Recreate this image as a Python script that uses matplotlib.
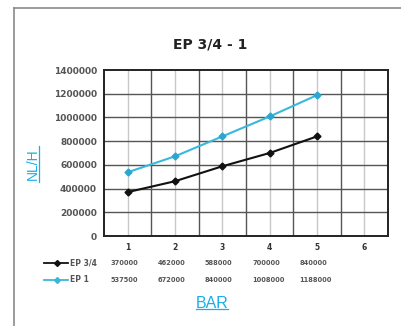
import matplotlib
matplotlib.use("Agg")
import matplotlib.pyplot as plt
from matplotlib.lines import Line2D

categories = [1, 2, 3, 4, 5, 6]
bar_values = [1, 2, 3, 4, 5]
ep34 = [370000, 462000, 588000, 700000, 840000]
ep1 = [537500, 672000, 840000, 1008000, 1188000]
series_names = ["EP 3/4", "EP 1"]
yticks = [0, 200000, 400000, 600000, 800000, 1000000, 1200000, 1400000]
title = "EP 3/4 - 1"

W, H = 401, 326
fig = plt.figure(figsize=(W / 100, H / 100), dpi=100)
fig.patch.set_facecolor("white")

# outer frame (left and top lines)
fig.add_artist(Line2D([14 / W, 14 / W], [0, 1 - 8 / H], color="#8a8a8a", lw=1.2))
fig.add_artist(Line2D([14 / W, 1], [1 - 8 / H, 1 - 8 / H], color="#8a8a8a", lw=1.2))

ax = fig.add_axes([104 / W, 1 - 236 / H, (388 - 104) / W, (236 - 70) / H])
ax.set_xlim(0.5, 6.5)
ax.set_ylim(0, 1400000)

# grid
for c in categories:
    ax.axvline(c, color="#c8c8c8", lw=1.0, zorder=0)
for c in categories[:-1]:
    ax.axvline(c + 0.5, color="#555555", lw=1.0, zorder=1)
for y in yticks[1:-1]:
    ax.axhline(y, color="#555555", lw=1.0, zorder=1)

black = "#111111"
cyan = "#3ab8dc"
ax.plot(bar_values, ep34, color=black, lw=1.5, marker="D", ms=3.5, zorder=3)
ax.plot(bar_values, ep1, color=cyan, lw=1.5, marker="D", ms=3.5,
        markerfacecolor="#2aa6d0", markeredgecolor="#2aa6d0", zorder=3)

for s in ax.spines.values():
    s.set_color("#222222")
    s.set_linewidth(1.4)

ax.set_yticks(yticks)
ax.set_yticklabels([str(v) for v in yticks], fontsize=6.5, fontweight="bold", color="#555555")
ax.set_xticks(categories)
ax.set_xticklabels([str(c) for c in categories], fontsize=5.5, fontweight="bold", color="#333333")
ax.tick_params(axis="both", length=0, pad=5)

fig.text(210 / W, 1 - 44 / H, title, ha="center", va="center", fontsize=10,
         fontweight="bold", color="#222222")

# data table
rows = [(series_names[0], ep34, black, 263), (series_names[1], ep1, cyan, 280)]
for name, vals, col, ypx in rows:
    yf = 1 - ypx / H
    fig.add_artist(Line2D([44 / W, 68 / W], [yf, yf], color=col, lw=1.3))
    fig.add_artist(Line2D([57 / W], [yf], color=col, marker="D", ms=3, lw=0))
    fig.text(70 / W, yf, name, ha="left", va="center", fontsize=5.5,
             fontweight="bold", color="#555555")
    for i, v in enumerate(vals):
        xd = bar_values[i] - 0.5 + 0.13
        xf = ax.transData.transform((xd, 0))[0] / W
        fig.text(xf, yf, str(v), ha="left", va="center", fontsize=4.8,
                 fontweight="bold", color="#555555")

label_col = "#1aaee8"
tb = fig.text(212 / W, 1 - 303 / H, "BAR", ha="center", va="center",
              fontsize=11.5, color=label_col, family="Liberation Sans")
tl = fig.text(33 / W, 1 - 164 / H, "NL/H", ha="center", va="center", rotation=90,
              fontsize=10, color=label_col, family="Liberation Sans")

fig.canvas.draw()
r = fig.canvas.get_renderer()
bb = tb.get_window_extent(r)
fig.add_artist(Line2D([bb.x0 / W, bb.x1 / W], [(bb.y0 + 1.5) / H, (bb.y0 + 1.5) / H],
                      color=label_col, lw=0.9))
bl = tl.get_window_extent(r)
fig.add_artist(Line2D([(bl.x1 - 1.0) / W, (bl.x1 - 1.0) / W],
                      [(bl.y0 - 2) / H, (bl.y1 + 2) / H],
                      color=label_col, lw=0.9))

fig.savefig("out.png", dpi=100, facecolor="white")
